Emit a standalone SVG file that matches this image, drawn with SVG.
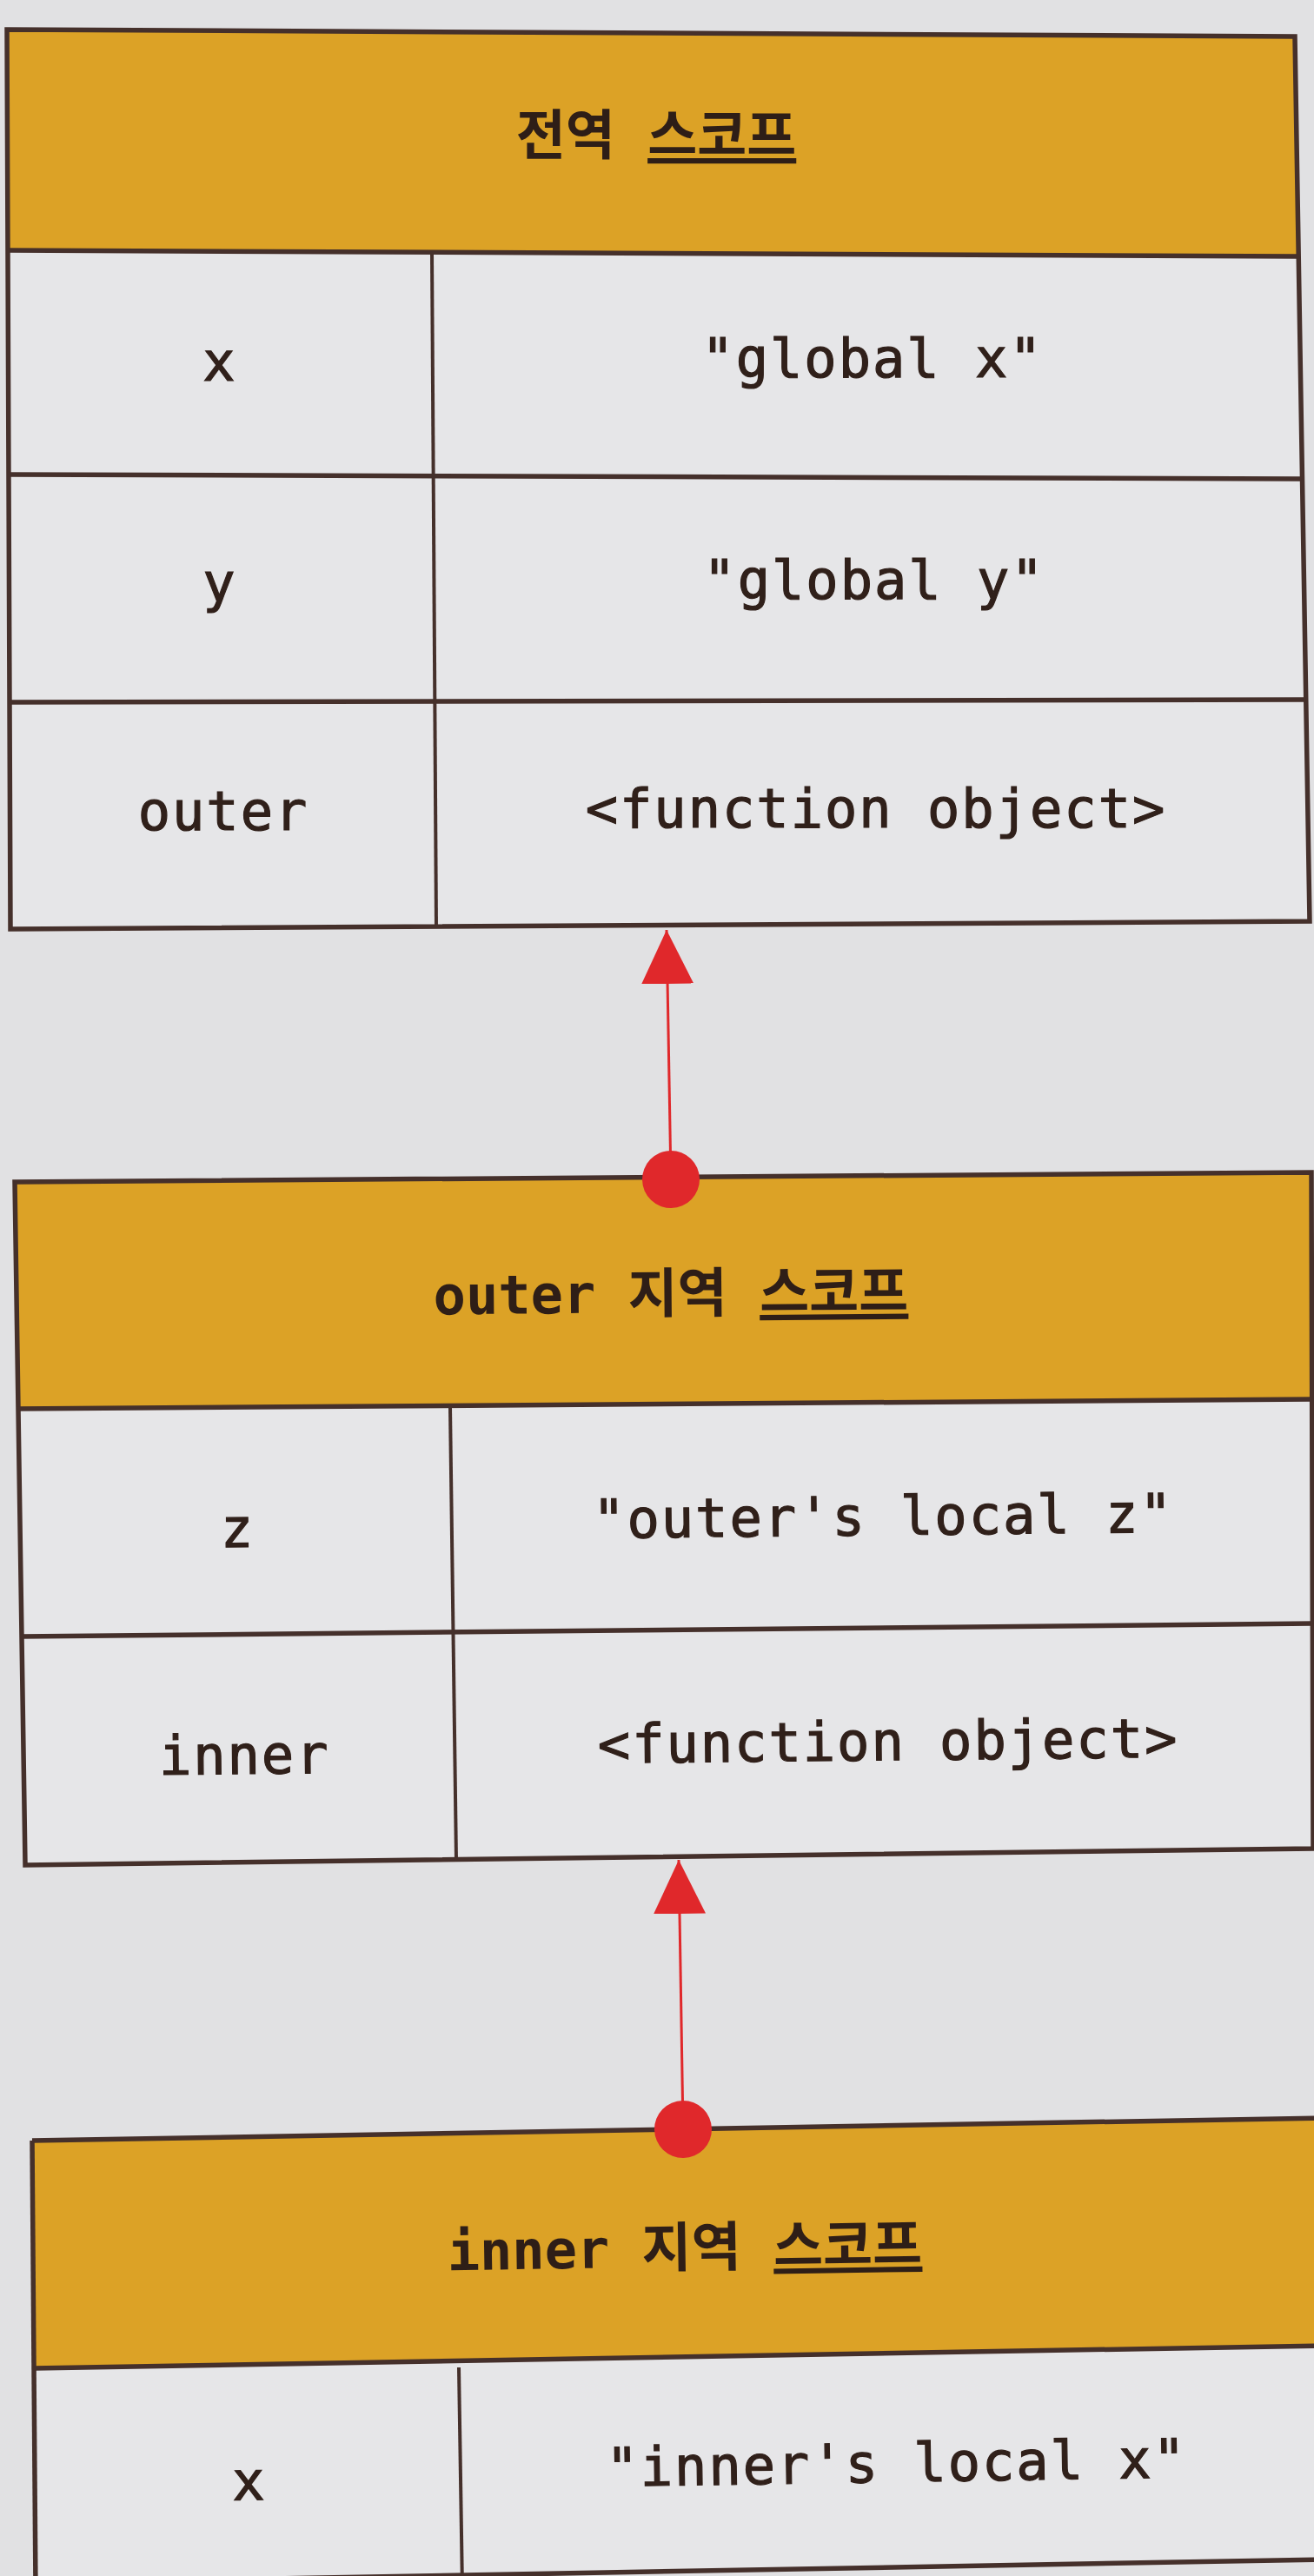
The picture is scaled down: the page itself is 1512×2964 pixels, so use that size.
<svg xmlns="http://www.w3.org/2000/svg" width="1512" height="2964" viewBox="0 0 1512 2964">
  <style>
    .page { fill: #e1e1e3; }
    .head { fill: #dca226; }
    .cell { fill: #e6e6e8; }
    .ln { stroke: #45302b; stroke-width: 5.5; fill: none; }
    .dv { stroke: #45302b; stroke-width: 4; fill: none; }
    .ht { font-family: "DejaVu Sans Mono", "Noto Sans CJK KR", monospace; font-size: 62px; font-weight: bold; fill: #2e1e17; text-anchor: middle; }
    .ct { font-family: "DejaVu Sans Mono", "Liberation Mono", monospace; font-size: 62px; letter-spacing: 2px; fill: #30201a; stroke: #30201a; stroke-width: 1.2px; text-anchor: middle; }
    .ul { text-decoration: underline; }
    .conn { stroke: #e0282b; stroke-width: 3; fill: none; }
  </style>
  <defs>
    <marker id="tri" viewBox="0 0 62 60" refX="62" refY="30" markerWidth="62" markerHeight="60" markerUnits="userSpaceOnUse" orient="auto">
      <path d="M0,0 L62,30 L0,60 Z" fill="#e0282b"/>
    </marker>
    <marker id="dot" viewBox="0 0 66 66" refX="33" refY="33" markerWidth="66" markerHeight="66" markerUnits="userSpaceOnUse" orient="auto">
      <circle cx="33" cy="33" r="33" fill="#e0282b"/>
    </marker>
  </defs>

  <rect class="page" x="0" y="0" width="1512" height="2964"/>

  <g id="global-scope">
    <polygon class="cell" points="9,288 1494,295 1507,1060 12,1069"/>
    <polygon class="head" points="8,34 1490,42 1494,295 9,288"/>
    <polygon class="ln" points="8,34 1490,42 1507,1060 12,1069"/>
    <line class="ln" x1="9" y1="288" x2="1494" y2="295"/>
    <line class="ln" x1="10" y1="546" x2="1498" y2="551"/>
    <line class="ln" x1="11" y1="808" x2="1503" y2="805"/>
    <line class="dv" x1="497" y1="290" x2="502" y2="1068"/>
    <text class="ht" x="755" y="178">전역 <tspan class="ul">스코프</tspan></text>
    <text class="ct" x="253" y="438">x</text>
    <text class="ct" x="1004" y="434">"global x"</text>
    <text class="ct" x="253" y="692">y</text>
    <text class="ct" x="1006" y="689">"global y"</text>
    <text class="ct" x="257" y="955">outer</text>
    <text class="ct" x="1008" y="952">&lt;function object&gt;</text>
  </g>

  <g id="outer-scope">
    <polygon class="cell" points="19,1621 1509,1610 1511,2127 29,2146"/>
    <polygon class="head" points="17,1360 1509,1349 1509,1610 19,1621"/>
    <polygon class="ln" points="17,1360 1509,1349 1511,2127 29,2146"/>
    <line class="ln" x1="19" y1="1621" x2="1509" y2="1610"/>
    <line class="ln" x1="24" y1="1883" x2="1510" y2="1868"/>
    <line class="dv" x1="518" y1="1619" x2="525" y2="2141"/>
    <g transform="rotate(-0.5 772 1500)">
      <text class="ht" x="772" y="1510">outer 지역 <tspan class="ul">스코프</tspan></text>
    </g>
    <g transform="rotate(-0.6 760 1900)">
      <text class="ct" x="275" y="1775">z</text>
      <text class="ct" x="1018" y="1769">"outer's local z"</text>
      <text class="ct" x="280" y="2036">inner</text>
      <text class="ct" x="1021" y="2028">&lt;function object&gt;</text>
    </g>
  </g>

  <g id="inner-scope">
    <polygon class="cell" points="39,2725 1520,2699 1520,2945 41,2972"/>
    <polygon class="head" points="37,2463 1520,2437 1520,2699 39,2725"/>
    <line class="ln" x1="37" y1="2463" x2="1520" y2="2437"/>
    <line class="ln" x1="37" y1="2463" x2="41" y2="2980"/>
    <line class="ln" x1="39" y1="2725" x2="1520" y2="2699"/>
    <line class="ln" x1="41" y1="2972" x2="1520" y2="2945"/>
    <line class="dv" x1="528" y1="2724" x2="532" y2="2980"/>
    <g transform="rotate(-0.9 788 2600)">
      <text class="ht" x="788" y="2608">inner 지역 <tspan class="ul">스코프</tspan></text>
    </g>
    <g transform="rotate(-0.9 760 2860)">
      <text class="ct" x="287" y="2869">x</text>
      <text class="ct" x="1032" y="2860">"inner's local x"</text>
    </g>
  </g>

  <g id="connectors">
    <path class="conn" d="M772,1357 L767,1070" marker-start="url(#dot)" marker-end="url(#tri)"/>
    <path class="conn" d="M786,2450 L781,2140" marker-start="url(#dot)" marker-end="url(#tri)"/>
  </g>
</svg>
